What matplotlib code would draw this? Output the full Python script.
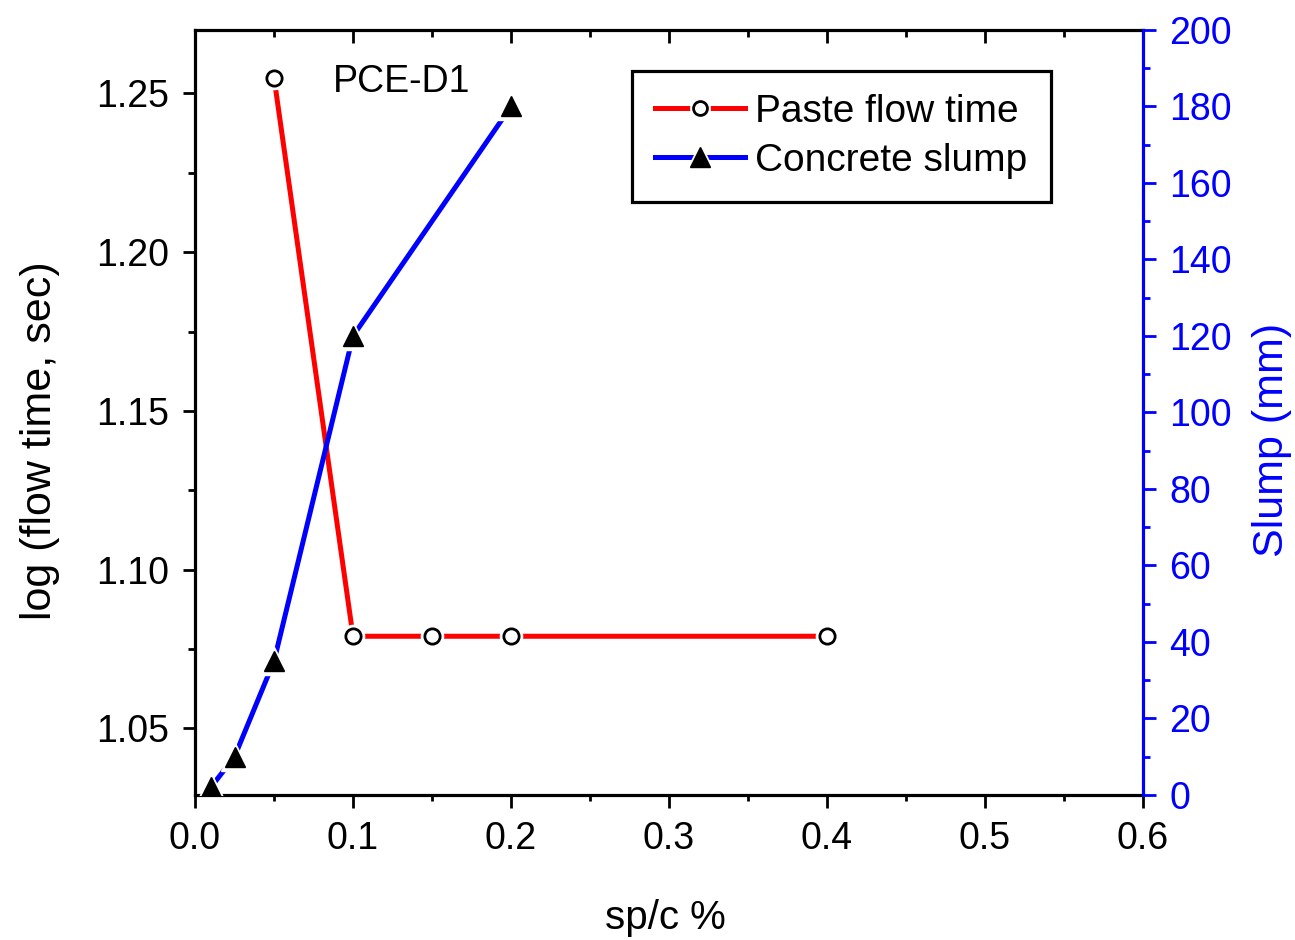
import matplotlib
matplotlib.use("Agg")
import matplotlib.pyplot as plt
from matplotlib.ticker import MultipleLocator, FormatStrFormatter

plt.rcParams['font.family'] = ['Liberation Sans', 'DejaVu Sans']

# paste flow time (left axis)
sp_paste = [0.05, 0.10, 0.15, 0.20, 0.40]
log_flow = [1.255, 1.079, 1.079, 1.079, 1.079]

# concrete slump (right axis)
sp_slump = [0.01, 0.025, 0.05, 0.10, 0.20]
slump_mm = [2, 10, 35, 120, 180]

fig = plt.figure(figsize=(12.95, 9.4), dpi=100)
ax = fig.add_axes([0.1506, 0.1543, 0.732, 0.8138])
ax2 = ax.twinx()

LW = 3.6

# red series: line, white halo to make gaps, open circles
ax.plot(sp_paste, log_flow, color='red', lw=LW, zorder=2)
ax.plot(sp_paste, log_flow, ls='none', marker='o', ms=16, mfc='white', mec='white', zorder=3)
ax.plot(sp_paste, log_flow, ls='none', marker='o', ms=11, mfc='white', mec='black', mew=2, zorder=4)

# blue series
ax2.plot(sp_slump, slump_mm, color='blue', lw=LW, zorder=2)
ax2.plot(sp_slump, slump_mm, ls='none', marker='^', ms=20, mfc='white', mec='white', zorder=3)
ax2.plot(sp_slump, slump_mm, ls='none', marker='^', ms=14, color='black', zorder=4)

ax.set_xlim(0, 0.6)
ax.set_ylim(1.029, 1.270)
ax2.set_ylim(0, 200)

ax.xaxis.set_major_locator(MultipleLocator(0.1))
ax.xaxis.set_minor_locator(MultipleLocator(0.05))
ax.xaxis.set_major_formatter(FormatStrFormatter('%.1f'))
ax.yaxis.set_major_locator(MultipleLocator(0.05))
ax.yaxis.set_minor_locator(MultipleLocator(0.025))
ax.yaxis.set_major_formatter(FormatStrFormatter('%.2f'))
ax2.yaxis.set_major_locator(MultipleLocator(20))
ax2.yaxis.set_minor_locator(MultipleLocator(10))

for s in ['left', 'bottom', 'top']:
    ax.spines[s].set_linewidth(2.3)
ax.spines['right'].set_visible(False)
for s in ['left', 'bottom', 'top']:
    ax2.spines[s].set_visible(False)
ax2.spines['right'].set_color('blue')
ax2.spines['right'].set_linewidth(2.3)

TS = 27
ax.tick_params(axis='x', which='major', direction='out', length=9, width=2, labelsize=TS, pad=10, top=True)
ax.tick_params(axis='x', which='minor', direction='out', length=4.5, width=2, top=True)
ax.tick_params(axis='y', which='major', direction='out', length=9, width=2, labelsize=TS, pad=10)
ax.tick_params(axis='y', which='minor', direction='out', length=5, width=2)
ax2.tick_params(axis='y', which='major', direction='out', length=9, width=2, labelsize=TS, pad=10,
                colors='blue')
ax2.tick_params(axis='y', which='minor', direction='out', length=5, width=2, colors='blue')

# top ticks point inward
for t in ax.xaxis.get_major_ticks():
    t.tick2line.set_marker(matplotlib.lines.TICKDOWN)
    t.tick2line.set_markersize(9)
for t in ax.xaxis.get_minor_ticks():
    t.tick2line.set_marker(matplotlib.lines.TICKDOWN)
    t.tick2line.set_markersize(5)

fig.text(40 / 1295, 1 - 441 / 940, 'log (flow time, sec)', rotation=90, ha='center', va='center', fontsize=31)
fig.text(1272 / 1295, 1 - 440 / 940, 'Slump (mm)', rotation=90, ha='center', va='center', fontsize=31, color='blue')
fig.text(665 / 1295, 1 - 918 / 940, 'sp/c %', ha='center', va='center', fontsize=29)

ax.text(0.087, 1.2535, 'PCE-D1', fontsize=TS, ha='left', va='center')

# legend
Line2D = matplotlib.lines.Line2D
red_line = Line2D([], [], color='red', lw=LW)
red_halo = Line2D([], [], ls='none', marker='o', ms=14, mfc='white', mec='white')
red_mk = Line2D([], [], ls='none', marker='o', ms=10, mfc='white', mec='black', mew=2)
blue_line = Line2D([], [], color='blue', lw=LW)
blue_halo = Line2D([], [], ls='none', marker='^', ms=20, mfc='white', mec='white')
blue_mk = Line2D([], [], ls='none', marker='^', ms=14, color='black')
leg = ax2.legend([(red_line, red_halo, red_mk), (blue_line, blue_halo, blue_mk)],
                 ['Paste flow time', 'Concrete slump'],
                 loc='upper left', bbox_to_anchor=(0.461, 0.947), fontsize=28,
                 frameon=True, fancybox=False, edgecolor='black', handlelength=2.3,
                 handletextpad=0.27, borderpad=0.6, labelspacing=0.33, borderaxespad=0)
leg.get_frame().set_linewidth(2.3)
leg.get_frame().set_alpha(1)

fig.savefig('out.png', dpi=100)
